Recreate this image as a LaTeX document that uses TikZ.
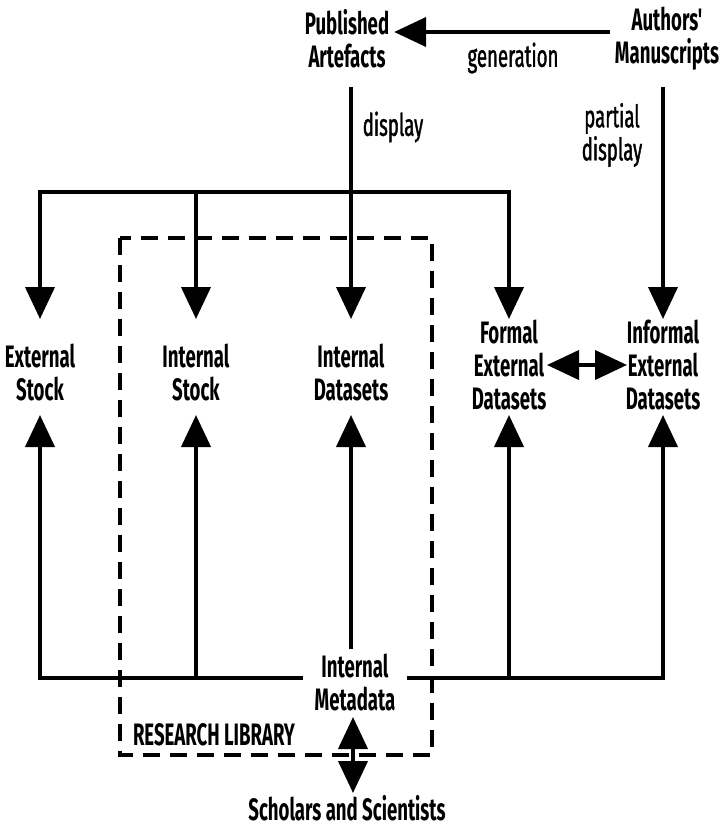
\documentclass[tikz,border=0pt]{standalone}
\usepackage{fontspec}
\usetikzlibrary{arrows.meta}
\newfontfamily\diagfont{Fira Sans}[FakeStretch=0.6]
\newfontfamily\edgefont{Fira Sans}[FakeStretch=0.6, FakeBold=1.2]
\begin{document}
\begin{tikzpicture}[x=1pt,y=-1pt,
  line width=4pt,
  >={Triangle[length=32pt,width=29pt]},
  lbl/.style={font=\diagfont\bfseries\fontsize{31}{33}\selectfont, align=center, inner sep=3pt},
  elbl/.style={font=\edgefont\fontsize{31}{33}\selectfont, align=center, inner sep=3pt},
  libbox/.style={dashed, dash pattern=on 17pt off 10pt, line width=4pt}]
\useasboundingbox (0,0) rectangle (721,828);

% helper levels
\coordinate (gy) at (0,32);
\coordinate (srcT) at (0,87);
\coordinate (busT) at (0,192);
\coordinate (tipD) at (0,319);
\coordinate (hy) at (0,365);
\coordinate (tipU) at (0,415);
\coordinate (busB) at (0,678);
\coordinate (dA) at (0,717);
\coordinate (dB) at (0,793);

% nodes
\node[lbl] (pub) at (347,39) {Published\\Artefacts};
\node[lbl] (auth) at (667,39) {Authors'\\Manuscripts};
\node[lbl] (extS) at (40,372) {External\\Stock};
\node[lbl] (intS) at (196,372) {Internal\\Stock};
\node[lbl] (intD) at (351,372) {Internal\\Datasets};
\node[lbl] (formD) at (509,365) {Formal\\External\\Datasets};
\node[lbl] (infD) at (663,365) {Informal\\External\\Datasets};
\node[lbl, inner xsep=10pt, inner ysep=2pt] (meta) at (355,682) {Internal\\Metadata};
\node[lbl, inner sep=0pt] (sch) at (347,808) {Scholars and Scientists};
\node[lbl, anchor=west] (lib) at (128,735) {RESEARCH LIBRARY};

% edge labels
\node[elbl] (gen) at (513,58) {generation};
\node[elbl] (disp) at (393,127) {display};
\node[elbl] (pdisp) at (612,135) {partial\\display};

% research library boundary
\draw[libbox] (120,238) rectangle (432,755);

% generation and display
\draw[->] ([xshift=-57pt]auth.center |- gy) -- (pub.east |- gy);
\draw[->] (intD |- srcT) -- (intD |- tipD);
\draw[->] (infD |- srcT) -- (infD |- tipD);

% upper distribution bus
\draw[<->, line join=miter] (extS |- tipD) -- (extS |- busT) -- (formD |- busT) -- (formD |- tipD);
\draw[->] (intS |- busT) -- (intS |- tipD);

% formal / informal exchange
\draw[<->] ([xshift=38pt]formD.center |- hy) -- ([xshift=-36pt]infD.center |- hy);

% lower metadata bus
\draw[<-, line join=miter] (extS |- tipU) -- (extS |- busB) -- (meta.west |- busB);
\draw[->, line join=miter] (meta.east |- busB) -- (infD |- busB) -- (infD |- tipU);
\draw[->] (intS |- busB) -- (intS |- tipU);
\draw[->] (formD |- busB) -- (formD |- tipU);
\draw[->] (intD |- meta.north) -- (intD |- tipU);

% access by scholars
\draw[<->] ([xshift=-2pt]meta |- dA) -- ([xshift=-2pt]meta |- dB);
\end{tikzpicture}
\end{document}
